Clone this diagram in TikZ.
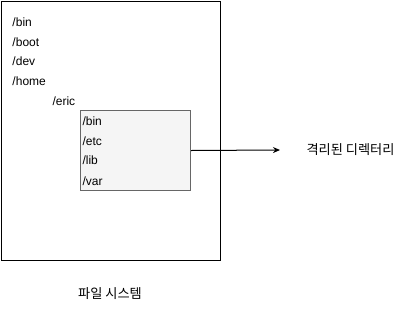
\documentclass[tikz,border=0pt]{standalone}
\usepackage{fontspec}
\setmainfont{Liberation Sans}
\newfontfamily\kofont{Noto Sans CJK KR}
\usetikzlibrary{arrows.meta}
\definecolor{boxfill}{HTML}{F5F5F5}
\definecolor{boxline}{HTML}{666666}
\tikzset{
  dirname/.style={anchor=west, inner sep=0pt, font=\fontsize{12}{14}\selectfont},
  label/.style={inner sep=0pt, font=\kofont\fontsize{13.2}{15}\selectfont}
}
\begin{document}
\begin{tikzpicture}[x=1pt, y=-1pt, line width=1pt]
  \useasboundingbox[fill=white] (0,0) rectangle (411,311);
  %
  % File system box
  \draw[black] (1,1) rectangle (220,260);
  \node[dirname] (bin) at (12,22) {/bin};
  \node[dirname] (boot) at (12,42) {/boot};
  \node[dirname] (dev) at (12,61) {/dev};
  \node[dirname] (home) at (12,81) {/home};
  \node[dirname] (eric) at (52,101) {/eric};
  %
  % Isolated directory
  \node[draw=boxline, fill=boxfill, minimum width=110pt, minimum height=80pt,
        inner sep=0pt, anchor=north west] (jail) at (80,110) {};
  \node[dirname] (jbin) at (82,121) {/bin};
  \node[dirname] (jetc) at (82,141) {/etc};
  \node[dirname] (jlib) at (82,160) {/lib};
  \node[dirname] (jvar) at (82,181) {/var};
  %
  % Arrow and labels
  \coordinate (tip) at (280,150);
  \draw[-{Stealth[length=7pt,width=6pt]}] (jail.east) -- (tip);
  \node[label, anchor=west] (isolated) at (306,150) {격리된 디렉터리};
  \node[label] (fs) at (110,294) {파일 시스템};
\end{tikzpicture}
\end{document}
